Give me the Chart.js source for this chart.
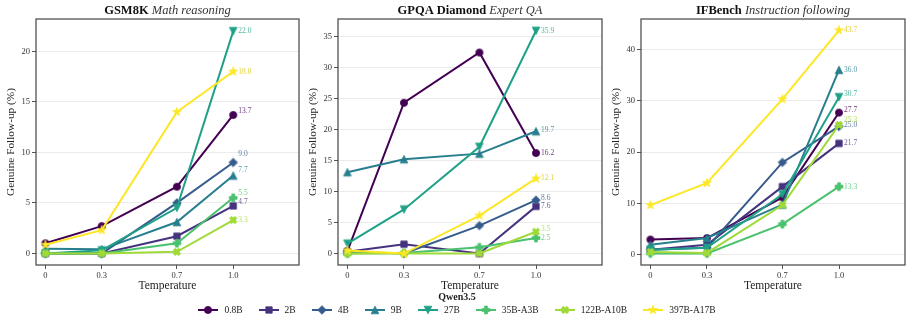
<!DOCTYPE html>
<html>
<head>
<meta charset="utf-8">
<script src="https://cdn.jsdelivr.net/npm/chart.js@4.4.1/dist/chart.umd.min.js"></script>
<style>
  body { margin: 0; background: #fff; width: 914px; height: 326px; position: relative; overflow: hidden; font-family: "Liberation Serif", serif; }
  canvas.panel { position: absolute; top: 0; }
  #legend { position: absolute; left: 0; top: 290px; width: 914px; color: #222; }
  #legend .ltitle { text-align: center; font-weight: bold; font-size: 10px; line-height: 13px; }
  #litems { display: flex; justify-content: center; align-items: center; height: 14px; font-size: 9.5px; }
  #litems .item { display: flex; align-items: center; margin: 0 8px; }
  #litems .item span { margin-left: 6px; }
</style>
</head>
<body>
<canvas id="c1" class="panel" width="305" height="293" style="left:0px"></canvas>
<canvas id="c2" class="panel" width="306" height="293" style="left:302px"></canvas>
<canvas id="c3" class="panel" width="306" height="293" style="left:605px"></canvas>
<div id="legend">
  <div class="ltitle">Qwen3.5</div>
  <div id="litems"></div>
</div>
<script>
// data
const temps = [0, 0.3, 0.7, 1.0];
const tempLabels = ["0", "0.3", "0.7", "1.0"];
const modelNames = ["0.8B", "2B", "4B", "9B", "27B", "35B-A3B", "122B-A10B", "397B-A17B"];

// one row per model, one value per temperature
const gsm8k = [
  [1.0, 2.7, 6.6, 13.7],
  [0.0, 0.0, 1.7, 4.7],
  [0.0, 0.0, 5.0, 9.0],
  [0.45, 0.4, 3.1, 7.7],
  [0.0, 0.3, 4.5, 22.0],
  [0.0, 0.0, 1.0, 5.5],
  [0.0, 0.0, 0.15, 3.3],
  [0.85, 2.3, 14.0, 18.0]
];
const gpqa = [
  [0.4, 24.3, 32.4, 16.2],
  [0.3, 1.5, 0.0, 7.6],
  [0.3, 0.0, 4.5, 8.6],
  [13.1, 15.2, 16.1, 19.7],
  [1.6, 7.1, 17.2, 35.9],
  [0.0, 0.1, 1.0, 2.5],
  [0.0, 0.0, 0.0, 3.5],
  [0.5, 0.0, 6.1, 12.1]
];
const ifbench = [
  [3.0, 3.3, 11.2, 27.7],
  [1.0, 2.0, 13.3, 21.7],
  [1.0, 1.4, 18.0, 25.0],
  [2.0, 3.3, 9.8, 36.0],
  [1.0, 1.4, 11.8, 30.7],
  [0.3, 0.3, 6.0, 13.3],
  [0.6, 0.4, 9.7, 25.3],
  [9.7, 14.0, 30.3, 43.7]
];

const gsmTicks = [0, 5, 10, 15, 20];
const gpqaTicks = [0, 5, 10, 15, 20, 25, 30, 35];
const ifTicks = [0, 10, 20, 30, 40];

// viridis, 8 steps
const colors = ["#440154", "#46327e", "#365c8d", "#277f8e", "#1fa187", "#4ac16d", "#a0da39", "#fde725"];
const labelColors = ["rgba(68,1,84,0.8)", "rgba(70,50,126,0.8)", "rgba(54,92,141,0.8)", "rgba(39,127,142,0.8)",
  "rgba(31,161,135,0.8)", "rgba(74,193,109,0.8)", "rgba(160,218,57,0.8)", "rgba(222,200,20,0.85)"];
const shapes = ["circle", "square", "diamond", "triUp", "triDown", "plus", "xfill", "star"];

const FONT = "'Liberation Serif', serif";
const TXT = "#333";

function poly(ctx, x, y, pts) {
  pts.forEach((p, i) => i ? ctx.lineTo(x + p[0], y + p[1]) : ctx.moveTo(x + p[0], y + p[1]));
  ctx.closePath();
}

function drawMarker(ctx, shape, x, y, color) {
  ctx.fillStyle = color;
  ctx.strokeStyle = color;
  ctx.lineWidth = 0.8;
  ctx.beginPath();
  if (shape === "circle") {
    ctx.arc(x, y, 3.6, 0, Math.PI * 2);
  } else if (shape === "square") {
    ctx.rect(x - 3.2, y - 3.2, 6.4, 6.4);
  } else if (shape === "diamond") {
    poly(ctx, x, y, [[0, -4.3], [4.3, 0], [0, 4.3], [-4.3, 0]]);
  } else if (shape === "triUp") {
    poly(ctx, x, y, [[0, -3.8], [3.8, 3.8], [-3.8, 3.8]]);
  } else if (shape === "triDown") {
    poly(ctx, x, y, [[0, 3.8], [3.8, -3.8], [-3.8, -3.8]]);
  } else if (shape === "plus" || shape === "xfill") {
    const a = 3.9, w = 1.4;
    let pts = [[-w, -a], [w, -a], [w, -w], [a, -w], [a, w], [w, w], [w, a], [-w, a], [-w, w], [-a, w], [-a, -w], [-w, -w]];
    if (shape === "xfill") {
      const c = Math.SQRT1_2;
      pts = pts.map(p => [(p[0] - p[1]) * c, (p[0] + p[1]) * c]);
    }
    poly(ctx, x, y, pts);
  } else if (shape === "star") {
    const pts = [];
    for (let k = 0; k < 10; k++) {
      const r = k % 2 ? 1.75 : 4.6;
      const ang = -Math.PI / 2 + k * Math.PI / 5;
      pts.push([r * Math.cos(ang), r * Math.sin(ang)]);
    }
    poly(ctx, x, y, pts);
  }
  ctx.fill();
  ctx.stroke();
}

function markerCanvas(shape, color) {
  const c = document.createElement("canvas");
  c.width = 14; c.height = 14;
  drawMarker(c.getContext("2d"), shape, 7, 7, color);
  return c;
}

const panelTitle = {
  id: "panelTitle",
  afterDraw(chart, args, opts) {
    const ctx = chart.ctx, area = chart.chartArea;
    ctx.save();
    ctx.fillStyle = "#111";
    ctx.textBaseline = "middle";
    const bFont = "bold 12.5px " + FONT, iFont = "italic 12.5px " + FONT;
    ctx.font = bFont;
    const w1 = ctx.measureText(opts.bold + " ").width;
    ctx.font = iFont;
    const w2 = ctx.measureText(opts.italic).width;
    let x = (area.left + area.right) / 2 - (w1 + w2) / 2;
    ctx.font = bFont;
    ctx.fillText(opts.bold + " ", x, 11);
    ctx.font = iFont;
    ctx.fillStyle = "#333";
    ctx.fillText(opts.italic, x + w1, 11);
    ctx.restore();
  }
};

const frame = {
  id: "frame",
  afterDraw(chart) {
    const ctx = chart.ctx, a = chart.chartArea;
    ctx.save();
    ctx.strokeStyle = "#444";
    ctx.lineWidth = 1.2;
    ctx.strokeRect(a.left, a.top, a.right - a.left, a.bottom - a.top);
    ctx.restore();
  }
};

const valueLabels = {
  id: "valueLabels",
  afterDatasetsDraw(chart, args, opts) {
    const ctx = chart.ctx;
    ctx.save();
    ctx.font = "7.5px " + FONT;
    ctx.textBaseline = "middle";
    chart.data.datasets.forEach((ds, i) => {
      const meta = chart.getDatasetMeta(i);
      const pt = meta.data[meta.data.length - 1];
      const v = ds.data[ds.data.length - 1].y;
      ctx.fillStyle = labelColors[i];
      ctx.fillText(v.toFixed(1), pt.x + 5, pt.y + opts.shifts[i]);
    });
    ctx.restore();
  }
};

function makePanel(id, bold, italic, series, yMin, yMax, yTicks, shifts) {
  const datasets = series.map((vals, i) => ({
    label: modelNames[i],
    data: temps.map((t, k) => ({ x: t, y: vals[k] })),
    borderColor: colors[i],
    backgroundColor: colors[i],
    borderWidth: 2,
    pointStyle: markerCanvas(shapes[i], colors[i]),
    pointRadius: 4,
    pointHoverRadius: 4,
    order: 7 - i,
    clip: false
  }));
  return new Chart(document.getElementById(id), {
    type: "line",
    data: { datasets },
    plugins: [panelTitle, frame, valueLabels],
    options: {
      responsive: false,
      animation: false,
      events: [],
      layout: { padding: { top: 19, right: 3, left: 0, bottom: 0 } },
      plugins: {
        legend: { display: false },
        tooltip: { enabled: false },
        panelTitle: { bold, italic },
        valueLabels: { shifts }
      },
      scales: {
        x: {
          type: "linear",
          min: -0.05,
          max: 1.35,
          afterBuildTicks: s => { s.ticks = temps.map(v => ({ value: v })); },
          afterFit: s => { s.height = 28; },
          ticks: { callback: (v, i) => tempLabels[i], font: { family: FONT, size: 8.5 }, color: TXT, padding: 2, maxRotation: 0, autoSkip: false },
          grid: { drawOnChartArea: false, drawTicks: true, tickLength: 4, tickColor: "#555" },
          border: { display: false },
          title: { display: true, text: "Temperature", font: { family: FONT, size: 11.5 }, color: "#222", padding: { top: 0, bottom: 0 } }
        },
        y: {
          min: yMin,
          max: yMax,
          afterBuildTicks: s => { s.ticks = yTicks.map(v => ({ value: v })); },
          afterFit: s => { s.width = 36; },
          ticks: { font: { family: FONT, size: 8.5 }, color: TXT, padding: 2 },
          grid: { color: "#ebebeb", lineWidth: 1, drawTicks: true, tickLength: 4, tickColor: "#555" },
          border: { display: false },
          title: { display: true, text: "Genuine Follow-up (%)", font: { family: FONT, size: 11.3 }, color: "#222", padding: { top: 4, bottom: 0 } }
        }
      }
    }
  });
}

makePanel("c1", "GSM8K", "Math reasoning", gsm8k, -1.15, 23.2, gsmTicks, [-3.5, -4, -8, -5.3, 0, -4.7, 0, 0]);
makePanel("c2", "GPQA Diamond", "Expert QA", gpqa, -1.85, 37.8, gpqaTicks, [0, 0, -2.3, -1, 0, 0, -2.7, 0]);
makePanel("c3", "IFBench", "Instruction following", ifbench, -1.95, 45.9, ifTicks, [-2.7, 0, -1, 0, -2.7, 0, -4.7, 0]);

// legend
const litems = document.getElementById("litems");
modelNames.forEach((name, i) => {
  const item = document.createElement("div");
  item.className = "item";
  const c = document.createElement("canvas");
  c.width = 20; c.height = 12;
  const ctx = c.getContext("2d");
  ctx.strokeStyle = colors[i];
  ctx.lineWidth = 2;
  ctx.beginPath(); ctx.moveTo(0, 6); ctx.lineTo(20, 6); ctx.stroke();
  drawMarker(ctx, shapes[i], 10, 6, colors[i]);
  const sp = document.createElement("span");
  sp.textContent = name;
  item.appendChild(c);
  item.appendChild(sp);
  litems.appendChild(item);
});
</script>
</body>
</html>
